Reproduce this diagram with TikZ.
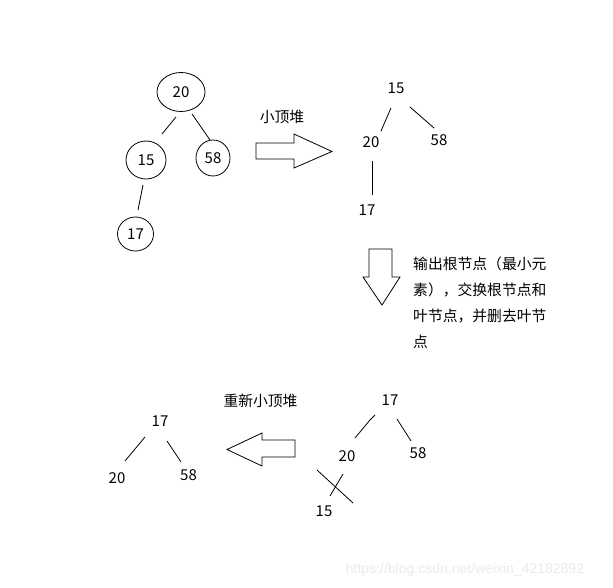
\documentclass[tikz,border=0pt]{standalone}
\usepackage{fontspec}
\setmainfont{Noto Sans CJK SC}
\newfontfamily\wmfont{Liberation Sans}
\usetikzlibrary{shapes.geometric}
\begin{document}
\begin{tikzpicture}[x=1pt,y=-1pt,
  num/.style={inner sep=0pt,font=\fontsize{15}{18}\selectfont},
  circ/.style={draw,ellipse,inner sep=0pt,line width=0.8pt,font=\fontsize{15}{18}\selectfont},
  lbl/.style={inner sep=0pt,font=\fontsize{14.8}{26}\selectfont},
  edge/.style={line width=0.8pt},
  bigarrow/.style={draw,line width=0.8pt,fill=white}]
\useasboundingbox[fill=white] (0,0) rectangle (613,587);

% ---- top-left tree (circled)
\node[circ,minimum width=48pt,minimum height=39pt] (a20) at (181,92) {20};
\node[circ,minimum width=40pt,minimum height=38pt] (a15) at (146,160) {15};
\node[circ,minimum width=34pt,minimum height=36pt] (a58) at (213,158) {58};
\node[circ,minimum width=36pt,minimum height=34pt] (a17) at (135.5,234) {17};
\coordinate (a1s) at (176,117); \coordinate (a1e) at (162,134);
\coordinate (a2s) at (192,114); \coordinate (a2e) at (210,140);
\coordinate (a3s) at (143,185); \coordinate (a3e) at (138,210);
\draw[edge] (a1s) -- (a1e);
\draw[edge] (a2s) -- (a2e);
\draw[edge] (a3s) -- (a3e);

% ---- right arrow
\draw[bigarrow] (256,143) -- (294,143) -- (294,134) -- (332,151.5) -- (294,168) -- (294,159) -- (256,159) -- cycle;
\node[lbl] (t1) at (282,116.5) {小顶堆};

% ---- top-right tree
\node[num] (b15) at (396,88.5) {15};
\node[num] (b20) at (371,142.5) {20};
\node[num] (b58) at (439,140.5) {58};
\node[num] (b17) at (367,210) {17};
\coordinate (b1s) at (391,108); \coordinate (b1e) at (381,131);
\coordinate (b2s) at (410,107); \coordinate (b2e) at (434,128);
\coordinate (b3s) at (372,161); \coordinate (b3e) at (372,195);
\draw[edge] (b1s) -- (b1e);
\draw[edge] (b2s) -- (b2e);
\draw[edge] (b3s) -- (b3e);

% ---- down arrow
\draw[bigarrow] (369,249) -- (392,249) -- (392,277) -- (400,277) -- (382,305) -- (363,277) -- (369,277) -- cycle;
\node[lbl,align=left,anchor=north west] (t2) at (413,257) {输出根节点（最小元\\素），交换根节点和\\叶节点，并删去叶节\\点};

% ---- bottom-right tree
\node[num] (c17) at (390,400) {17};
\node[num] (c20) at (347,456.5) {20};
\node[num] (c58) at (418,453.5) {58};
\node[num] (c15) at (324,511.5) {15};
\coordinate (c1s) at (375,415); \coordinate (c1m) at (370,420); \coordinate (c1e) at (355,438);
\coordinate (c2s) at (397,419); \coordinate (c2e) at (411,441);
\coordinate (x1s) at (317,470); \coordinate (x1e) at (353,503);
\coordinate (x2s) at (343,474); \coordinate (x2e) at (330,496);
\draw[edge] (c1s) -- (c1m) -- (c1e);
\draw[edge] (c2s) -- (c2e);
\draw[edge] (x1s) -- (x1e);
\draw[edge] (x2s) -- (x2e);

% ---- left arrow
\draw[bigarrow] (295,440) -- (262,440) -- (262,433) -- (227,449.5) -- (262,466) -- (262,457) -- (295,457) -- cycle;
\node[lbl] (t3) at (260.5,400.5) {重新小顶堆};

% ---- bottom-left tree
\node[num] (d17) at (160,421.5) {17};
\node[num] (d20) at (117,478.5) {20};
\node[num] (d58) at (188.5,475) {58};
\coordinate (d1s) at (145,437); \coordinate (d1e) at (125,461);
\coordinate (d2s) at (167,441); \coordinate (d2e) at (181,462);
\draw[edge] (d1s) -- (d1e);
\draw[edge] (d2s) -- (d2e);

% ---- watermark
\node[inner sep=0pt,text=black!8,font=\wmfont\fontsize{14}{16}\selectfont] (wm) at (465,570) {https://blog.csdn.net/weixin\_42182892};
\end{tikzpicture}
\end{document}
